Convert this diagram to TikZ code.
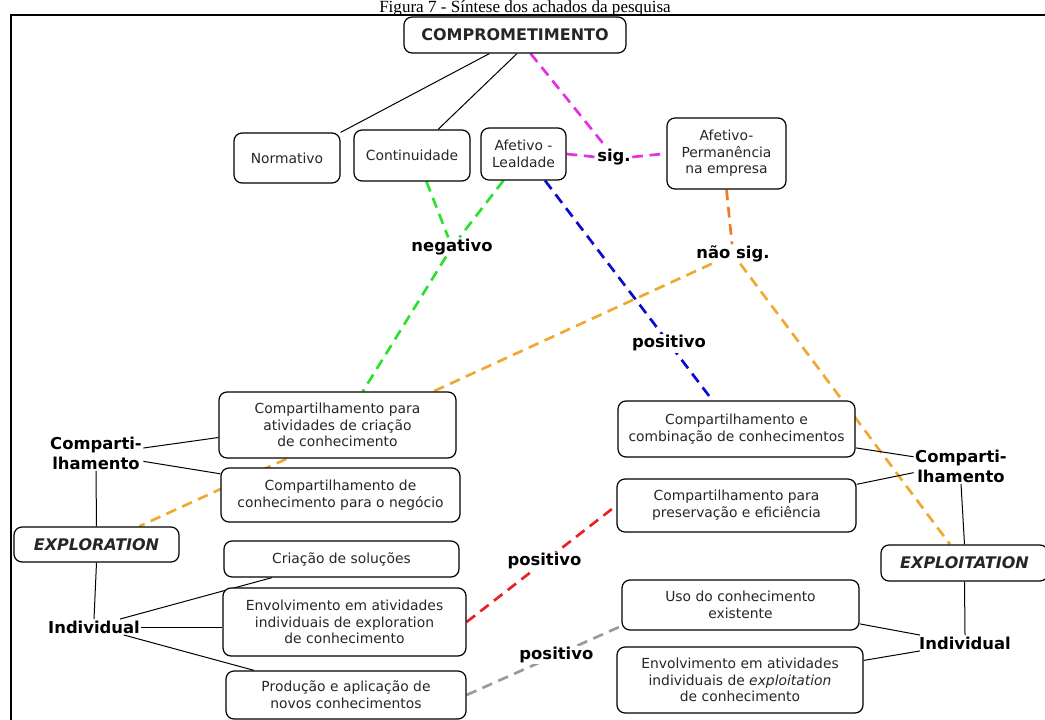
\documentclass[tikz,border=0pt]{standalone}
\usepackage{fontspec}
\setmainfont{DejaVu Sans}
\newfontfamily\titlefont{Liberation Serif}
\usetikzlibrary{backgrounds}

\definecolor{sigmag}{HTML}{E62EE6}
\definecolor{neggreen}{HTML}{2EE02E}
\definecolor{posblue}{HTML}{0A0AD0}
\definecolor{nsorange}{HTML}{F07A28}
\definecolor{nsamber}{HTML}{F0A830}
\definecolor{posred}{HTML}{E82222}
\definecolor{posgray}{HTML}{9A9A9A}

\tikzset{
  cbox/.style={draw, rounded corners=6pt, line width=0.9pt, fill=white, align=center,
    font=\fontsize{10.4}{12.5}\selectfont, text=black!85, inner sep=0pt},
  lbl/.style={font=\fontsize{12.3}{15}\selectfont\bfseries, inner sep=1pt, align=center},
  tie/.style={line width=0.75pt},
  rel/.style={line width=2pt, dash pattern=on 8pt off 5pt, draw=#1},
}

\begin{document}
\begin{tikzpicture}[x=0.75pt, y=-0.75pt]
      \useasboundingbox (0,0) rectangle (1045,720);
      \node[anchor=base, font=\titlefont\fontsize{12.8}{14}\selectfont, inner sep=0pt] (title) at (525,13)
        {Figura 7 - Síntese dos achados da pesquisa};
      \draw[line width=1.5pt] (1045,15) -- (11,15) -- (11,720); % frame
      %
      \node[cbox, minimum width=166.5pt, minimum height=27pt,
        font=\fontsize{12}{14}\selectfont\bfseries] (comp) at (515,35) {COMPROMETIMENTO};
      %
      \node[cbox, minimum width=79.5pt, minimum height=37.5pt] (norm) at (287,158) {Normativo};
      \node[cbox, minimum width=87pt, minimum height=38.25pt] (cont) at (412,155.5) {Continuidade};
      \node[cbox, minimum width=63.75pt, minimum height=39pt] (leal) at (523.5,154) {Afetivo -\\Lealdade};
      \node[cbox, minimum width=89.25pt, minimum height=53.25pt] (perm) at (726.5,153.5) {Afetivo-\\Permanência\\na empresa};
      %
      \node[lbl, fill=white] (sig) at (614,157) {sig.};
      \node[lbl] (negl) at (452,247) {negativo};
      \node[lbl] (naosig) at (733,254) {não sig.};
      %% exploration side
      \node[cbox, minimum width=177.75pt, minimum height=49.5pt] (crc) at (337.5,425) {Compartilhamento para\\atividades de criação\\de conhecimento};
      \node[cbox, minimum width=179.25pt, minimum height=40.5pt] (neg) at (340.5,495) {Compartilhamento de\\conhecimento para o negócio};
      \node[cbox, minimum width=176.25pt, minimum height=27pt] (sol) at (341.5,559) {Criação de soluções};
      \node[cbox, minimum width=182.25pt, minimum height=51pt] (envr) at (344.5,622) {Envolvimento em atividades\\individuais de exploration\\de conhecimento};
      \node[cbox, minimum width=180pt, minimum height=36pt] (prod) at (346,695) {Produção e aplicação de\\novos conhecimentos};
      \node[lbl] (compL) at (96,453) {Comparti-\\lhamento};
      \node[cbox, minimum width=123.75pt, minimum height=26.25pt,
        font=\fontsize{12}{14}\selectfont\bfseries\itshape] (explor) at (96.5,544.5) {EXPLORATION};
      \node[lbl] (indL) at (94,627) {Individual};
      %% exploitation side
      \node[cbox, minimum width=177.75pt, minimum height=42pt] (comb) at (736.5,429) {Compartilhamento e\\combinação de conhecimentos};
      \node[cbox, minimum width=179.25pt, minimum height=39.75pt] (pres) at (736.5,505.5) {Compartilhamento para\\preservação e eficiência};
      \node[cbox, minimum width=177.75pt, minimum height=37.5pt] (uso) at (740.5,605) {Uso do conhecimento\\existente};
      \node[cbox, minimum width=184.5pt, minimum height=49.5pt] (envt) at (740,680) {Envolvimento em atividades\\individuais de \textit{exploitation}\\de conhecimento};
      \node[lbl] (compR) at (961,466) {Comparti-\\lhamento};
      \node[cbox, minimum width=125.25pt, minimum height=27pt,
        font=\fontsize{12}{14}\selectfont\bfseries\itshape] (exploit) at (964.5,563) {EXPLOITATION};
      \node[lbl] (indR) at (965,643) {Individual};
      %
      \begin{scope}[on background layer]
        \draw[tie] (comp.216) -- (norm.north east);          % commitment types
        \draw[tie] (comp.276.3) -- (cont.45.6);
        %
        \draw[rel=sigmag] (comp.-50.2) -- (sig);             % results
        \draw[rel=sigmag] (leal.east) -- (sig.west);
        \draw[rel=sigmag] (sig.east) -- (perm.west);
        \draw[rel=neggreen] (cont.-61.2) -- (negl);
        \draw[rel=neggreen] (leal.233.1) -- (negl);
        \draw[rel=neggreen] (negl) -- (crc.53.4);
        \draw[rel=posblue] (leal.-51.7) -- node[lbl, fill=white, pos=0.74] (posb) {positivo} (comb.130);
        \draw[rel=nsorange] (perm.south) -- (naosig);
        \draw[rel=nsamber] (naosig) -- (explor.23.4);
        \draw[rel=nsamber] (naosig) -- (exploit.128.9);
        \draw[rel=posred] (envr.east) -- node[lbl, fill=white, pos=0.52] (posr) {positivo} (pres.west);
        \draw[rel=posgray] (prod.east) -- node[lbl, fill=white, pos=0.58] (posg) {positivo} (uso.190.5);
        %
        \draw[tie] (compL.6) -- (crc.186.7);                 % left tree
        \draw[tie] (compL.-10) -- (neg.170);
        \draw[tie] (compL.south) -- (explor.north);
        \draw[tie] (explor.south) -- (indL.north);
        \draw[tie] (indL.17) -- (sol.195.5);
        \draw[tie] (indL.east) -- (indL.east -| envr.west);
        \draw[tie] (indL.-15) -- (prod.165.4);
        %
        \draw[tie] (comb.-9.1) -- (compR.169);               % right tree
        \draw[tie] (pres.10.2) -- (compR.188.7);
        \draw[tie] (compR.south) -- (exploit.north);
        \draw[tie] (exploit.south) -- (indR.north);
        \draw[tie] (uso.-9.7) -- (indR.170.5);
        \draw[tie] (envt.9.2) -- (indR.190);
      \end{scope}
\end{tikzpicture}
\end{document}
